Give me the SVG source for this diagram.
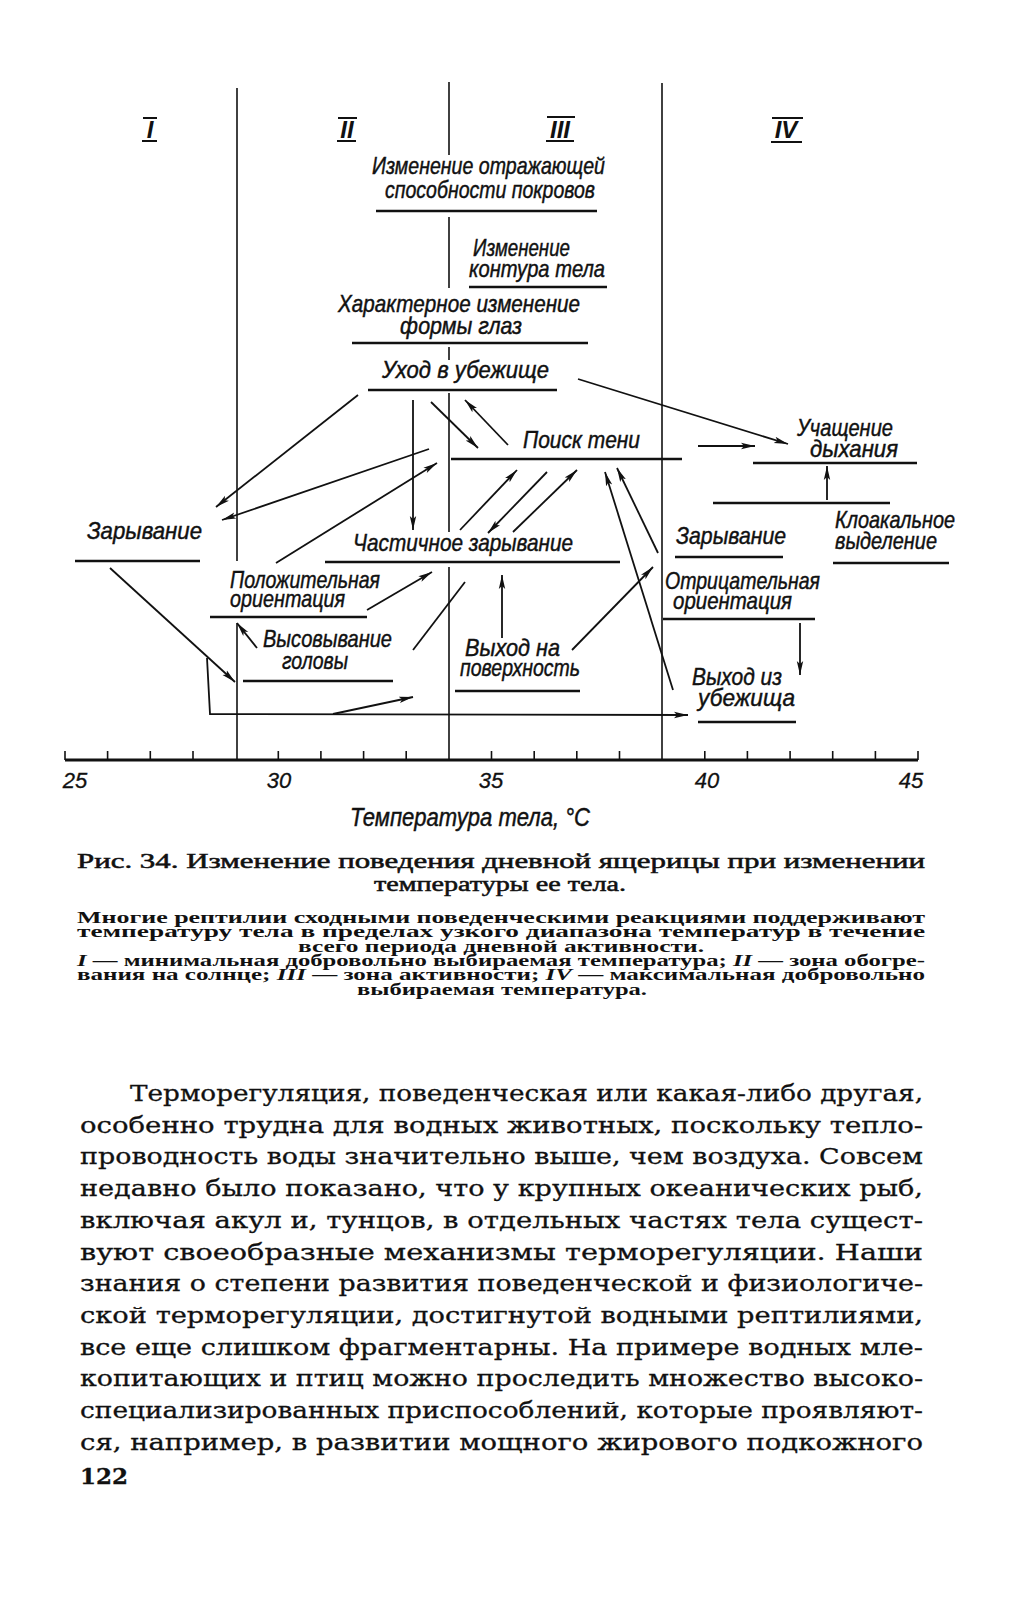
<svg xmlns="http://www.w3.org/2000/svg" width="1019" height="1600" viewBox="0 0 1019 1600">
<style>
.lbl{font-family:"Liberation Sans",Arial,sans-serif;font-style:italic;font-size:24px;fill:#111;stroke:#111;stroke-width:0.45}
.rn{font-family:"Liberation Sans",Arial,sans-serif;font-style:italic;font-weight:bold;font-size:24px;fill:#111;text-anchor:middle}
.num{font-family:"Liberation Sans",Arial,sans-serif;font-style:italic;font-size:22px;fill:#111;text-anchor:middle;stroke:#111;stroke-width:0.3}
.ul{stroke:#111;stroke-width:2.6;fill:none}
.bar{stroke:#111;stroke-width:2;fill:none}
.vl{stroke:#111;stroke-width:1.6;fill:none}
.ar{stroke:#111;stroke-width:1.8;fill:none;marker-end:url(#ah)}
.ln{stroke:#111;stroke-width:1.8;fill:none}
.tk{stroke:#111;stroke-width:1.6}
.cap1{font-family:"Liberation Serif","Times New Roman",serif;font-size:20px;fill:#111;stroke:#111;stroke-width:0.5}
.cap2{font-family:"Liberation Serif","Times New Roman",serif;font-size:16px;font-weight:bold;fill:#111}
.body{font-family:"DejaVu Serif","Liberation Serif",serif;font-size:23px;fill:#111;stroke:#111;stroke-width:0.3}
.it{font-style:italic}
</style>
<defs>
<marker id="ah" markerUnits="userSpaceOnUse" markerWidth="15" markerHeight="8" refX="14" refY="4" orient="auto">
<path d="M0,0.8 L14,4 L0,7.2 L3,4 z" fill="#111"/>
</marker>
</defs>

<g id="zones">
<line class="vl" x1="237" y1="88" x2="237" y2="561"/>
<line class="vl" x1="237" y1="623" x2="237" y2="760"/>
<line class="vl" x1="449" y1="82" x2="449" y2="155"/>
<line class="vl" x1="449" y1="217" x2="449" y2="288"/>
<line class="vl" x1="449" y1="347" x2="449" y2="360"/>
<line class="vl" x1="449" y1="393" x2="449" y2="532"/>
<line class="vl" x1="449" y1="567" x2="449" y2="760"/>
<line class="vl" x1="662" y1="83" x2="662" y2="760"/>
</g>

<g id="zone-labels">
<g id="zone-I"><text class="rn" x="150" y="138">I</text><line class="bar" x1="143" y1="118" x2="157" y2="118"/><line class="bar" x1="142" y1="141" x2="157" y2="141"/></g>
<g id="zone-II"><text class="rn" x="347" y="138">II</text><line class="bar" x1="338" y1="118" x2="357" y2="118"/><line class="bar" x1="337" y1="141" x2="356" y2="141"/></g>
<g id="zone-III"><text class="rn" x="560" y="138">III</text><line class="bar" x1="547" y1="117" x2="575" y2="117"/><line class="bar" x1="546" y1="141" x2="574" y2="141"/></g>
<g id="zone-IV"><text class="rn" x="786" y="138">IV</text><line class="bar" x1="772" y1="118" x2="803" y2="118"/><line class="bar" x1="771" y1="142" x2="802" y2="142"/></g>
</g>

<g id="n-reflect"><text class="lbl" x="372" y="174" textLength="233" lengthAdjust="spacingAndGlyphs">Изменение отражающей</text><text class="lbl" x="385" y="198" textLength="210" lengthAdjust="spacingAndGlyphs">способности покровов</text><line class="ul" x1="376" y1="211" x2="597" y2="211"/></g>
<g id="n-contour"><text class="lbl" x="473" y="256" textLength="97" lengthAdjust="spacingAndGlyphs">Изменение</text><text class="lbl" x="469" y="277" textLength="136" lengthAdjust="spacingAndGlyphs">контура тела</text><line class="ul" x1="469" y1="287" x2="607" y2="287"/></g>
<g id="n-eyes"><text class="lbl" x="338" y="312" textLength="242" lengthAdjust="spacingAndGlyphs">Характерное изменение</text><text class="lbl" x="400" y="334" textLength="122" lengthAdjust="spacingAndGlyphs">формы глаз</text><line class="ul" x1="352" y1="343" x2="588" y2="343"/></g>
<g id="n-shelter"><text class="lbl" x="382" y="378" textLength="167" lengthAdjust="spacingAndGlyphs">Уход в убежище</text><line class="ul" x1="368" y1="390" x2="557" y2="390"/></g>
<g id="n-shade"><text class="lbl" x="523" y="448" textLength="117" lengthAdjust="spacingAndGlyphs">Поиск тени</text><line class="ul" x1="451" y1="459" x2="682" y2="459"/></g>
<g id="n-breath"><text class="lbl" x="797" y="436" textLength="96" lengthAdjust="spacingAndGlyphs">Учащение</text><text class="lbl" x="810" y="457" textLength="88" lengthAdjust="spacingAndGlyphs">дыхания</text><line class="ul" x1="753" y1="463" x2="917" y2="463"/></g>
<g id="n-bar"><line class="ul" x1="713" y1="503" x2="890" y2="503"/></g>
<g id="n-cloaca"><text class="lbl" x="835" y="528" textLength="120" lengthAdjust="spacingAndGlyphs">Клоакальное</text><text class="lbl" x="835" y="549" textLength="102" lengthAdjust="spacingAndGlyphs">выделение</text><line class="ul" x1="833" y1="563" x2="949" y2="563"/></g>
<g id="n-burrow-left"><text class="lbl" x="87" y="539" textLength="115" lengthAdjust="spacingAndGlyphs">Зарывание</text><line class="ul" x1="75" y1="561" x2="200" y2="561"/></g>
<g id="n-partial"><text class="lbl" x="353" y="551" textLength="220" lengthAdjust="spacingAndGlyphs">Частичное зарывание</text><line class="ul" x1="325" y1="562" x2="620" y2="562"/></g>
<g id="n-burrow-right"><text class="lbl" x="676" y="544" textLength="110" lengthAdjust="spacingAndGlyphs">Зарывание</text><line class="ul" x1="675" y1="557" x2="783" y2="557"/></g>
<g id="n-pos"><text class="lbl" x="230" y="588" textLength="150" lengthAdjust="spacingAndGlyphs">Положительная</text><text class="lbl" x="230" y="607" textLength="115" lengthAdjust="spacingAndGlyphs">ориентация</text><line class="ul" x1="210" y1="617" x2="367" y2="617"/></g>
<g id="n-neg"><text class="lbl" x="665" y="589" textLength="155" lengthAdjust="spacingAndGlyphs">Отрицательная</text><text class="lbl" x="673" y="609" textLength="119" lengthAdjust="spacingAndGlyphs">ориентация</text><line class="ul" x1="663" y1="619" x2="815" y2="619"/></g>
<g id="n-head"><text class="lbl" x="263" y="647" textLength="129" lengthAdjust="spacingAndGlyphs">Высовывание</text><text class="lbl" x="282" y="669" textLength="66" lengthAdjust="spacingAndGlyphs">головы</text><line class="ul" x1="243" y1="681" x2="393" y2="681"/></g>
<g id="n-surface"><text class="lbl" x="465" y="656" textLength="95" lengthAdjust="spacingAndGlyphs">Выход на</text><text class="lbl" x="460" y="676" textLength="120" lengthAdjust="spacingAndGlyphs">поверхность</text><line class="ul" x1="455" y1="691" x2="580" y2="691"/></g>
<g id="n-exit"><text class="lbl" x="692" y="685" textLength="90" lengthAdjust="spacingAndGlyphs">Выход из</text><text class="lbl" x="698" y="706" textLength="97" lengthAdjust="spacingAndGlyphs">убежища</text><line class="ul" x1="698" y1="722" x2="796" y2="722"/></g>

<g id="connectors">
<line class="ar" x1="358" y1="395" x2="216" y2="507"/>
<line class="ar" x1="429" y1="449" x2="222" y2="520"/>
<line class="ar" x1="276" y1="563" x2="437" y2="463"/>
<line class="ar" x1="413" y1="400" x2="413" y2="530"/>
<line class="ar" x1="431" y1="402" x2="478" y2="448"/>
<line class="ar" x1="508" y1="445" x2="465" y2="400"/>
<line class="ar" x1="460" y1="530" x2="517" y2="470"/>
<line class="ar" x1="547" y1="472" x2="488" y2="533"/>
<line class="ar" x1="513" y1="532" x2="577" y2="470"/>
<line class="ar" x1="578" y1="379" x2="788" y2="444"/>
<line class="ar" x1="698" y1="446" x2="755" y2="446"/>
<line class="ar" x1="827" y1="500" x2="827" y2="466"/>
<line class="ar" x1="800" y1="623" x2="800" y2="675"/>
<line class="ar" x1="673" y1="690" x2="605" y2="472"/>
<line class="ar" x1="658" y1="553" x2="617" y2="468"/>
<line class="ar" x1="572" y1="650" x2="653" y2="567"/>
<line class="ar" x1="502" y1="638" x2="502" y2="575"/>
<line class="ar" x1="110" y1="568" x2="235" y2="682"/>
<polyline class="ar" points="207,658 210,714 688,715"/>
<line class="ar" x1="333" y1="714" x2="413" y2="697"/>
<line class="ar" x1="367" y1="610" x2="432" y2="572"/>
<line class="ar" x1="257" y1="648" x2="237" y2="623"/>
<line class="ln" x1="413" y1="650" x2="465" y2="582"/>
</g>

<g id="axis">
<line x1="65" y1="760" x2="918" y2="760" stroke="#111" stroke-width="3"/>
<g class="tk">
<line x1="65" y1="751" x2="65" y2="760"/><line x1="107.6" y1="751" x2="107.6" y2="760"/><line x1="150.3" y1="751" x2="150.3" y2="760"/><line x1="193" y1="751" x2="193" y2="760"/>
<line x1="278.3" y1="751" x2="278.3" y2="760"/><line x1="320.9" y1="751" x2="320.9" y2="760"/><line x1="363.6" y1="751" x2="363.6" y2="760"/><line x1="406.2" y1="751" x2="406.2" y2="760"/>
<line x1="491.5" y1="751" x2="491.5" y2="760"/><line x1="534.2" y1="751" x2="534.2" y2="760"/><line x1="576.8" y1="751" x2="576.8" y2="760"/><line x1="619.5" y1="751" x2="619.5" y2="760"/>
<line x1="704.8" y1="751" x2="704.8" y2="760"/><line x1="747.4" y1="751" x2="747.4" y2="760"/><line x1="790.1" y1="751" x2="790.1" y2="760"/><line x1="832.7" y1="751" x2="832.7" y2="760"/><line x1="875.4" y1="751" x2="875.4" y2="760"/><line x1="918" y1="751" x2="918" y2="760"/>
</g>
<text class="num" x="75" y="788">25</text>
<text class="num" x="279" y="788">30</text>
<text class="num" x="491" y="788">35</text>
<text class="num" x="707" y="788">40</text>
<text class="num" x="911" y="788">45</text>
<text class="lbl" x="350" y="826" textLength="240" lengthAdjust="spacingAndGlyphs" style="font-size:25px">Температура тела, °C</text>
</g>

<g id="caption">
<text class="cap1" x="77" y="868" textLength="848" lengthAdjust="spacingAndGlyphs">Рис. 34. Изменение поведения дневной ящерицы при изменении</text>
<text class="cap1" x="374" y="891" textLength="252" lengthAdjust="spacingAndGlyphs">температуры ее тела.</text>
<text class="cap2" x="77" y="923" textLength="848" lengthAdjust="spacingAndGlyphs">Многие рептилии сходными  поведенческими реакциями  поддерживают</text>
<text class="cap2" x="77" y="937.3" textLength="848" lengthAdjust="spacingAndGlyphs">температуру тела в пределах  узкого  диапазона  температур  в течение</text>
<text class="cap2" x="298" y="951.6" textLength="406" lengthAdjust="spacingAndGlyphs">всего периода дневной активности.</text>
<text class="cap2" x="77" y="966" textLength="848" lengthAdjust="spacingAndGlyphs"><tspan class="it">I</tspan> — минимальная добровольно выбираемая температура; <tspan class="it">II</tspan> — зона обогре-</text>
<text class="cap2" x="77" y="980.3" textLength="848" lengthAdjust="spacingAndGlyphs">вания на солнце; <tspan class="it">III</tspan> — зона активности; <tspan class="it">IV</tspan> — максимальная добровольно</text>
<text class="cap2" x="357" y="994.6" textLength="290" lengthAdjust="spacingAndGlyphs">выбираемая температура.</text>
</g>

<g id="body-text">
<text class="body" x="130" y="1101" textLength="793" lengthAdjust="spacingAndGlyphs">Терморегуляция, поведенческая или какая-либо другая,</text>
<text class="body" x="80" y="1132.7" textLength="843" lengthAdjust="spacingAndGlyphs">особенно трудна для водных животных, поскольку тепло-</text>
<text class="body" x="80" y="1164.4" textLength="843" lengthAdjust="spacingAndGlyphs">проводность воды значительно выше, чем воздуха. Совсем</text>
<text class="body" x="80" y="1196.1" textLength="843" lengthAdjust="spacingAndGlyphs">недавно было показано, что у крупных океанических рыб,</text>
<text class="body" x="80" y="1227.8" textLength="843" lengthAdjust="spacingAndGlyphs">включая акул и, тунцов, в отдельных частях тела сущест-</text>
<text class="body" x="80" y="1259.5" textLength="843" lengthAdjust="spacingAndGlyphs">вуют  своеобразные  механизмы  терморегуляции.  Наши</text>
<text class="body" x="80" y="1291.2" textLength="843" lengthAdjust="spacingAndGlyphs">знания о степени развития поведенческой и физиологиче-</text>
<text class="body" x="80" y="1322.9" textLength="843" lengthAdjust="spacingAndGlyphs">ской терморегуляции, достигнутой водными рептилиями,</text>
<text class="body" x="80" y="1354.6" textLength="843" lengthAdjust="spacingAndGlyphs">все еще слишком фрагментарны. На примере водных мле-</text>
<text class="body" x="80" y="1386.3" textLength="843" lengthAdjust="spacingAndGlyphs">копитающих и птиц можно проследить множество высоко-</text>
<text class="body" x="80" y="1418" textLength="843" lengthAdjust="spacingAndGlyphs">специализированных приспособлений, которые проявляют-</text>
<text class="body" x="80" y="1449.7" textLength="843" lengthAdjust="spacingAndGlyphs">ся, например, в развитии мощного жирового подкожного</text>
<text class="body" x="80" y="1484" font-weight="bold">122</text>
</g>
</svg>
